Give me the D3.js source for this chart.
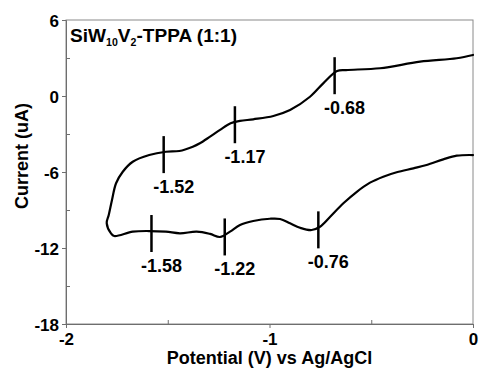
<!DOCTYPE html>
<html>
<head>
<meta charset="utf-8">
<script src="https://cdn.jsdelivr.net/npm/d3@7"></script>
<style>
  html, body { margin: 0; padding: 0; background: #fff; }
  svg { display: block; }
  text { font-family: "Liberation Sans", Arial, Helvetica, sans-serif; font-weight: bold; fill: #000; }
</style>
</head>
<body>
<svg id="chart" width="480" height="372"></svg>
<script>
// Cyclic voltammogram of SiW10V2-TPPA (1:1)
// Upper branch: from 0 V sweeping to the negative turning point
const upperPotential = [0, -0.08, -0.26, -0.457, -0.624, -0.668, -0.736, -0.801, -0.899, -0.981,
  -1.08, -1.145, -1.191, -1.243, -1.292, -1.342, -1.377, -1.443, -1.509, -1.591,
  -1.672, -1.721, -1.754, -1.774, -1.79, -1.8];
const upperCurrent = [3.24, 2.98, 2.71, 2.19, 2.05, 1.97, 1.0, -0.06, -1.11, -1.58,
  -1.84, -1.97, -2.16, -2.68, -3.21, -3.73, -4.0, -4.34, -4.4, -4.66,
  -5.19, -5.98, -6.89, -8.21, -9.4, -10.03];
// Lower branch: from the turning point back to 0 V
const lowerPotential = [-1.779, -1.763, -1.672, -1.592, -1.509, -1.44, -1.358, -1.292, -1.243, -1.194,
  -1.145, -1.08, -0.998, -0.948, -0.899, -0.85, -0.793, -0.752, -0.703, -0.637,
  -0.571, -0.506, -0.441, -0.375, -0.293, -0.228, -0.146, -0.08, 0];
const lowerCurrent = [-10.84, -11.05, -10.71, -10.66, -10.71, -10.84, -10.71, -10.89, -11.13, -10.71,
  -10.18, -9.87, -9.69, -9.71, -10.05, -10.4, -10.58, -10.32, -9.55, -8.47,
  -7.56, -6.84, -6.37, -6.02, -5.71, -5.45, -5.0, -4.71, -4.66];

// Marked peak potentials and the current of the trace at each of them
const peakPotential = [-0.68, -1.17, -1.52, -1.58, -1.22, -0.76];
const peakCurrent = [1.80, -2.07, -4.43, -10.66, -10.93, -10.37];

const xTicks = [-2, -1, 0];
const xMinorTicks = [-1.5, -0.5];
const yTicks = [-18, -12, -6, 0, 6];
const yMinorTicks = [-15, -9, -3, 3];

const xTitle = "Potential (V) vs Ag/AgCl";
const yTitle = "Current (uA)";

const svg = d3.select("#chart");
const plotLeft = 66, plotRight = 473, plotTop = 20, plotBottom = 324;

const x = d3.scaleLinear().domain([-2, 0]).range([plotLeft, plotRight]);
const y = d3.scaleLinear().domain([-18, 6]).range([plotBottom, plotTop]);

const axisColor = "#6e6e6e";

// frame
svg.append("rect")
  .attr("x", plotLeft).attr("y", plotTop)
  .attr("width", plotRight - plotLeft).attr("height", plotBottom - plotTop)
  .attr("fill", "none").attr("stroke", "#8a8a8a").attr("stroke-width", 1);

// x axis: major ticks outward with labels, minor ticks inward
const gx = svg.append("g").attr("transform", `translate(0,${plotBottom})`)
  .call(d3.axisBottom(x).tickValues(xTicks).tickSize(4).tickSizeOuter(0).tickFormat(d => String(d)));
svg.append("g").attr("transform", `translate(0,${plotBottom})`)
  .call(d3.axisBottom(x).tickValues(xMinorTicks).tickSize(-4).tickSizeOuter(0).tickFormat(""));

// y axis
const gy = svg.append("g").attr("transform", `translate(${plotLeft},0)`)
  .call(d3.axisLeft(y).tickValues(yTicks).tickSize(4).tickSizeOuter(0).tickFormat(d => String(d)));
svg.append("g").attr("transform", `translate(${plotLeft},0)`)
  .call(d3.axisLeft(y).tickValues(yMinorTicks).tickSize(-4).tickSizeOuter(0).tickFormat(""));

svg.selectAll(".domain").attr("stroke", axisColor);
svg.selectAll(".tick line").attr("stroke", axisColor);
svg.selectAll(".tick text")
  .attr("font-family", "Liberation Sans, Arial, sans-serif")
  .attr("font-weight", "bold").attr("font-size", 17).attr("fill", "#000");
gx.selectAll(".tick text").attr("dy", null).attr("y", 21);
gy.selectAll(".tick text").attr("x", -7).attr("dy", "0.36em");

// trace
const trace = upperPotential.map((v, i) => [v, upperCurrent[i]])
  .concat(lowerPotential.map((v, i) => [v, lowerCurrent[i]]));
const line = d3.line().x(d => x(d[0])).y(d => y(d[1])).curve(d3.curveCatmullRom.alpha(0.5));
svg.append("path")
  .attr("d", line(trace))
  .attr("fill", "none").attr("stroke", "#000")
  .attr("stroke-width", 2.2).attr("stroke-linejoin", "round").attr("stroke-linecap", "round");

// peak markers and labels
const peaks = peakPotential.map((v, i) => ({ v, c: peakCurrent[i] }));
svg.append("g").selectAll("line").data(peaks).join("line")
  .attr("x1", d => x(d.v)).attr("x2", d => x(d.v))
  .attr("y1", d => y(d.c) - 16).attr("y2", d => y(d.c) + 21)
  .attr("stroke", "#000").attr("stroke-width", 2.5);
svg.append("g").selectAll("text").data(peaks).join("text")
  .attr("x", d => x(d.v) + 10).attr("y", d => y(d.c) + 41)
  .attr("text-anchor", "middle").attr("font-size", 18)
  .text(d => d.v.toFixed(2));

// sample name, slightly widened
const title = svg.append("text")
  .attr("transform", "translate(70,41.5) scale(1.06,1)")
  .attr("font-size", 18);
title.append("tspan").text("SiW");
title.append("tspan").attr("font-size", 10).attr("dy", 4).text("10");
title.append("tspan").attr("dy", -4).text("V");
title.append("tspan").attr("font-size", 10).attr("dy", 4).text("2");
title.append("tspan").attr("dy", -4).text("-TPPA (1:1)");

// axis titles
svg.append("text")
  .attr("x", (plotLeft + plotRight) / 2).attr("y", 363.5)
  .attr("text-anchor", "middle").attr("font-size", 18)
  .text(xTitle);
svg.append("text")
  .attr("transform", `translate(28,156) rotate(-90)`)
  .attr("text-anchor", "middle").attr("font-size", 18)
  .text(yTitle);
</script>
</body>
</html>
